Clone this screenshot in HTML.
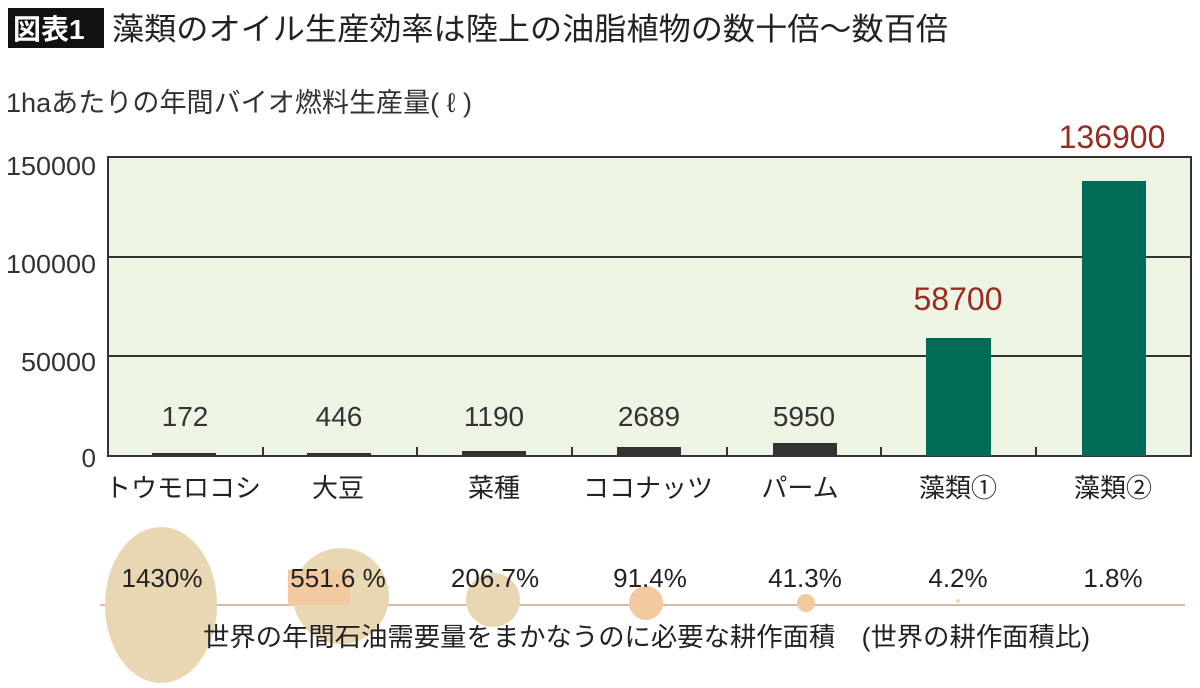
<!DOCTYPE html>
<html><head><meta charset="utf-8"><style>
body{margin:0;width:1200px;height:683px;background:#fff;overflow:hidden;font-family:"Liberation Sans","Noto Sans CJK JP",sans-serif;}
</style></head><body>
<svg width="1200" height="683" xmlns="http://www.w3.org/2000/svg" font-family="Liberation Sans, Noto Sans CJK JP, sans-serif">
<rect x="8" y="8" width="96" height="40" fill="#111"/>
<text x="13" y="39" font-size="28" fill="#fff" font-weight="bold">図表1</text>
<text x="112" y="40" font-size="31" fill="#222" textLength="836" lengthAdjust="spacingAndGlyphs">藻類のオイル生産効率は陸上の油脂植物の数十倍～数百倍</text>
<text x="6" y="112" font-size="27" fill="#333" textLength="466" lengthAdjust="spacingAndGlyphs">1haあたりの年間バイオ燃料生産量( ℓ )</text>
<rect x="108" y="157" width="1083" height="299" fill="#eef4e4" stroke="#333" stroke-width="2"/>
<line x1="108" y1="257" x2="1191" y2="257" stroke="#333" stroke-width="2"/>
<line x1="108" y1="356" x2="1191" y2="356" stroke="#333" stroke-width="2"/>
<g font-size="26" fill="#333" text-anchor="end">
<text x="96" y="175" textLength="90" lengthAdjust="spacingAndGlyphs">150000</text><text x="96" y="273" textLength="90" lengthAdjust="spacingAndGlyphs">100000</text><text x="96" y="371" textLength="75" lengthAdjust="spacingAndGlyphs">50000</text><text x="96" y="467">0</text>
</g>
<g stroke="#333" stroke-width="2">
<line x1="263" y1="456" x2="263" y2="447"/><line x1="417" y1="456" x2="417" y2="447"/><line x1="572" y1="456" x2="572" y2="447"/><line x1="727" y1="456" x2="727" y2="447"/><line x1="881" y1="456" x2="881" y2="447"/><line x1="1036" y1="456" x2="1036" y2="447"/>
</g>
<g fill="#333">
<rect x="152" y="453" width="64" height="3"/><rect x="307" y="453" width="64" height="3"/><rect x="462" y="451" width="64" height="5"/><rect x="617" y="447" width="64" height="9"/><rect x="773" y="443" width="64" height="13"/>
</g>
<rect x="926" y="338" width="65" height="118" fill="#006b56"/>
<rect x="1082" y="181" width="64" height="275" fill="#006b56"/>
<g font-size="28" fill="#333" text-anchor="middle">
<text x="185" y="426">172</text><text x="339" y="426">446</text><text x="494" y="426">1190</text><text x="649" y="426">2689</text><text x="804" y="426">5950</text>
</g>
<g font-size="32" fill="#9a2b20" text-anchor="middle">
<text x="958" y="310">58700</text><text x="1112" y="148">136900</text>
</g>
<g font-size="26" fill="#222" text-anchor="middle">
<text x="183" y="497">トウモロコシ</text><text x="338" y="497">大豆</text><text x="494" y="497">菜種</text><text x="648" y="497">ココナッツ</text><text x="800" y="497">パーム</text><text x="958" y="497">藻類①</text><text x="1113" y="497">藻類②</text>
</g>
<line x1="100" y1="605" x2="1185" y2="605" stroke="#d9b9a6" stroke-width="2"/>
<ellipse cx="161" cy="605" rx="56" ry="78" fill="#e8d7b2"/>
<circle cx="341" cy="596" r="48" fill="#e8d7b2"/>
<rect x="288" y="570" width="62" height="35" fill="#f3c9a0"/>
<circle cx="493" cy="600" r="27" fill="#e8d7b2"/>
<circle cx="646" cy="603" r="17" fill="#f3c9a0"/>
<circle cx="806" cy="603" r="9" fill="#f3c9a0"/>
<circle cx="958" cy="601" r="2" fill="#e8d7b2"/>
<g font-size="26" fill="#222" text-anchor="middle">
<text x="162" y="587">1430%</text><text x="338" y="587">551.6 %</text><text x="495" y="587">206.7%</text><text x="650" y="587">91.4%</text><text x="805" y="587">41.3%</text><text x="958" y="587">4.2%</text><text x="1113" y="587">1.8%</text>
</g>
<text x="203" y="646" font-size="26" fill="#222" textLength="887" lengthAdjust="spacingAndGlyphs">世界の年間石油需要量をまかなうのに必要な耕作面積　(世界の耕作面積比)</text>
</svg>
</body></html>
